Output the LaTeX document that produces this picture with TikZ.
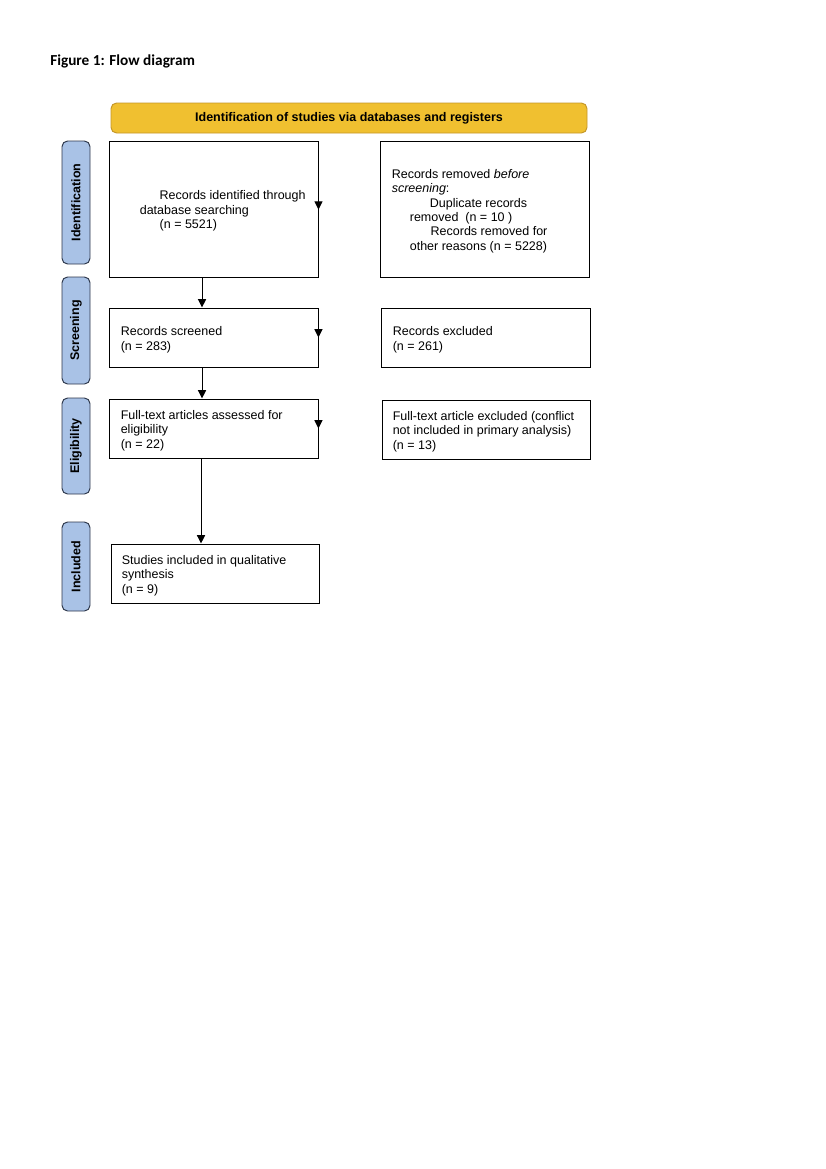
\documentclass[tikz,border=0pt]{standalone}
\usepackage{fontspec}
\setmainfont{Liberation Sans}
\newfontfamily\carlito{Carlito}
\usetikzlibrary{arrows.meta,calc}
\definecolor{bannerfill}{RGB}{240,192,48}
\definecolor{bannerdraw}{RGB}{196,150,40}
\definecolor{sidefill}{RGB}{169,194,230}
\definecolor{sidedraw}{RGB}{45,55,75}
\begin{document}
\begin{tikzpicture}[x=0.72pt,y=-0.72pt,
  box/.style={draw=black, line width=0.7pt, minimum width=150.48pt, inner sep=0pt},
  txt/.style={inner sep=0pt, align=left, font=\fontsize{9}{10.4}\selectfont, anchor=west, yshift=-1.5pt},
  side/.style={draw=sidedraw, fill=sidefill, line width=0.7pt, rounded corners=4pt, rotate=90,
    minimum height=20.16pt, inner sep=0pt, font=\fontsize{9}{10.4}\selectfont\bfseries},
  banner/.style={draw=bannerdraw, fill=bannerfill, line width=0.7pt, rounded corners=4pt,
    minimum width=342.72pt, minimum height=21.6pt, inner sep=0pt, font=\fontsize{9}{10.4}\selectfont\bfseries},
  arr/.style={draw=black, line width=0.7pt, -{Triangle[length=6pt,width=5.8pt]}},
  tip/.style={draw=black, line width=0.7pt, -{Triangle[length=6pt,width=5.8pt]}}
]
\useasboundingbox (0,0) rectangle (826,1169);

% title
\node[anchor=base west, inner sep=0pt, font=\carlito\fontsize{11}{13}\selectfont\bfseries] (title) at (50,65) {Figure 1: Flow diagram};

% banner
\node[banner] (ban) at (349,118) {Identification of studies via databases and registers};

% side labels
\node[side, minimum width=88.56pt] (sid) at (76,202.5) {Identification};
\node[side, minimum width=77.04pt] (ssc) at (76,330.5) {Screening};
\node[side, minimum width=69.12pt] (sel) at (76,446) {Eligibility};
\node[side, minimum width=64.08pt] (sin) at (76,566.5) {Included};

% boxes
\node[box, minimum height=97.92pt] (b1) at (213.5,209) {};
\node[box, minimum height=97.92pt] (rem) at (484.5,209) {};
\node[box, minimum height=42.48pt] (scr) at (213.5,337.5) {};
\node[box, minimum height=42.48pt] (exc) at (485.5,337.5) {};
\node[box, minimum height=42.48pt] (ft) at (213.5,428.5) {};
\node[box, minimum height=42.48pt, minimum width=149.76pt] (fte) at (486,429.5) {};
\node[box, minimum height=42.48pt, minimum width=149.76pt] (inc) at (215,573.5) {};

% texts
\node[txt] (t1) at ([xshift=8.64pt]b1.west) {\hspace*{28pt}Records identified through\\\hspace*{13.7pt}database searching\\\hspace*{28pt}(n = 5521)};
\node[txt] (trem) at ([xshift=8.64pt]rem.west) {Records removed \textit{before}\\\textit{screening}:\\\hspace*{27.4pt}Duplicate records\\\hspace*{13pt}removed\ \ (n = 10 )\\\hspace*{28pt}Records removed for\\\hspace*{13pt}other reasons (n = 5228)};
\node[txt] (tscr) at ([xshift=8.64pt]scr.west) {Records screened\\(n = 283)};
\node[txt] (texc) at ([xshift=8.64pt]exc.west) {Records excluded\\(n = 261)};
\node[txt] (tft) at ([xshift=8.64pt]ft.west) {Full-text articles assessed for\\eligibility\\(n = 22)};
\node[txt] (tfte) at ([xshift=7.92pt]fte.west) {Full-text article excluded (conflict\\not included in primary analysis)\\(n = 13)};
\node[txt] (tinc) at ([xshift=7.92pt]inc.west) {Studies included in qualitative\\synthesis\\(n = 9)};

% main arrows
\draw[arr] ([xshift=-8.28pt]b1.south) -- ([xshift=-8.28pt]scr.north);
\draw[arr] ([xshift=-8.28pt]scr.south) -- ([xshift=-8.28pt]ft.north);
\draw[arr] ([xshift=-9pt]ft.south) -- ([xshift=-9pt]ft.south |- inc.north);

% small arrowheads at right edges
\draw[tip] ([yshift=6.5pt]b1.east) -- ([yshift=-0.5pt]b1.east);
\draw[tip] ([yshift=6.5pt]scr.east) -- ([yshift=0pt]scr.east);
\draw[tip] ([yshift=6.5pt]ft.east) -- ([yshift=0pt]ft.east);
\end{tikzpicture}
\end{document}
